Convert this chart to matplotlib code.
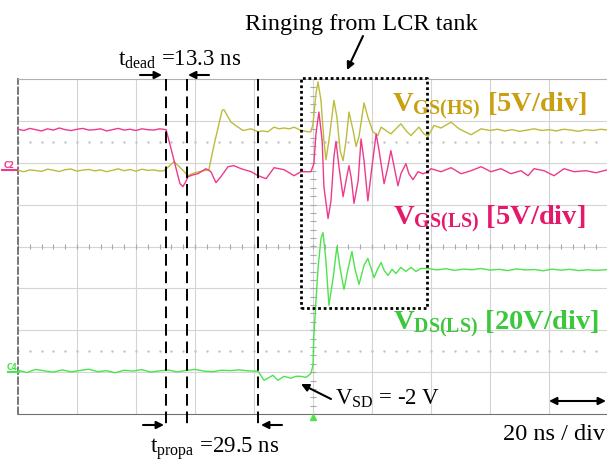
import numpy as np
import matplotlib
matplotlib.use("Agg")
from matplotlib import pyplot as plt

# scope capture, 20 ns/div, time in ns relative to trigger
# V_GS(HS) (yellow), V_GS(LS) (pink) at 5 V/div, V_DS(LS) (green) at 20 V/div

yel_t = [-100, -98, -96, -94, -92, -90, -88, -86, -84, -82,
         -80, -78, -76, -74, -72, -70, -68, -66, -64, -62,
         -60, -58, -56, -54, -52, -50.5, -47.1, -44.5, -42.4, -40.5,
         -39.0, -37.0, -35.3, -33.6, -30.8, -30.2, -27.8, -25.4, -23.7, -21.0,
         -18.6, -17.0, -15.3, -13.2, -11.5, -9.8, -8.0, -6.4, -4.1, -1.7,
         -0.7, 0.0, 1.0, 1.7, 2.7, 3.7, 4.4, 5.4, 7.1, 8.1,
         9.2, 10.2, 11.2, 12.2, 13.6, 14.6, 15.6, 17.3, 18.6, 20.3,
         22.0, 23.1, 24.7, 26.4, 28.1, 29.8, 31.5, 33.2, 35.9, 37.6,
         39.0, 41.0, 43.4, 46.8, 49.5, 53.6, 57.0, 60.0, 62.5, 65.0,
         67.5, 70.0, 72.5, 75.0, 77.5, 80.0, 82.5, 85.0, 87.5, 90.0,
         92.5, 95.0, 97.5, 100.0]
yel_v = [0.05, -0.12, 0.10, 0.02, -0.08, 0.18, 0.06, -0.10, 0.12, 0.20,
         -0.05, 0.08, 0.15, -0.02, 0.10, -0.12, 0.05, 0.22, 0.00, 0.14,
         -0.06, 0.18, 0.04, 0.10, -0.04, 0.0, 1.07, 0.2, -0.6, -0.3,
         -0.15, 0.0, 0.12, 3.0, 7.2, 7.3, 5.8, 5.2, 4.8, 5.0,
         4.65, 4.75, 4.65, 5.2, 5.0, 5.1, 5.0, 5.2, 4.8, 4.65,
         4.65, 5.6, 9.2, 10.6, 8.4, 3.6, 1.3, 3.6, 8.4, 6.4,
         2.4, 1.2, 3.6, 7.0, 4.8, 2.9, 4.1, 8.1, 6.4, 4.65,
         4.2, 5.2, 4.8, 4.4, 5.0, 5.6, 4.8, 4.2, 5.2, 4.4,
         4.1, 5.4, 5.1, 5.8, 5.0, 4.3, 5.0, 4.8, 4.95, 4.75,
         4.9, 4.7, 4.85, 5.0, 4.8, 4.9, 4.75, 4.95, 4.85, 4.7,
         4.9, 4.8, 4.95, 4.85]

pnk_t = [-100, -98, -96, -94, -92, -90, -88, -86, -84, -82,
         -80, -78, -76, -74, -72, -70, -68, -66, -64, -62,
         -60, -58, -56, -54, -52, -49.8, -48.1, -46.4, -45.1, -44.1,
         -43.1, -42.4, -40.7, -39.0, -36.3, -34.6, -32.9, -31.2, -28.8, -26.8,
         -24.4, -21.0, -18.6, -15.9, -13.2, -9.8, -6.4, -4.1, -0.7, 0.3,
         1.0, 2.0, 3.1, 3.7, 5.1, 6.1, 7.1, 7.8, 8.8, 10.2,
         11.2, 12.2, 13.0, 13.9, 15.3, 16.3, 17.3, 18.6, 19.7, 21.4,
         22.4, 24.1, 25.4, 26.4, 27.5, 28.8, 29.8, 31.5, 32.5, 33.9,
         35.6, 37.3, 39.0, 40.0, 43.4, 46.8, 50.2, 53.6, 57.0, 60.3,
         63.7, 67.1, 70.5, 72.9, 74.9, 78.3, 81.7, 85.1, 88.5, 92.5,
         95.9, 100.0]
pnk_v = [4.95, 4.8, 5.05, 4.9, 4.75, 5.0, 4.85, 5.1, 4.9, 4.8,
         4.95, 5.05, 4.85, 4.9, 5.0, 4.75, 4.9, 5.05, 4.85, 4.95,
         4.8, 5.0, 4.9, 4.85, 5.0, 4.9, 2.6, 0.24, -1.55, -1.9,
         -1.3, -0.72, -0.5, -0.36, 0.24, -0.12, -1.43, -0.7, 0.48, 0.6,
         0.24, -0.12, -0.6, -0.95, 0.36, 0.12, -0.6, -0.12, -0.12, 0.84,
         4.4, 7.0, 3.6, -1.9, -5.7, -3.6, 1.7, 3.5, 0.48, -3.1,
         -1.2, 0.6, -0.95, -3.9, -1.2, 3.8, 1.2, -3.6, -0.36, 4.4,
         2.4, -1.55, 0.48, 2.4, 0.48, -1.8, -0.36, 0.84, -0.36, -1.07,
         -0.12, -0.36, -0.12, 0.24, -0.12, 0.36, -0.36, 0.0, 0.48, -0.12,
         0.24, -0.36, 0.0, -0.6, 0.24, 0.0, -0.6, 0.24, -0.12, 0.0,
         -0.24, 0.12]

grn_t = [-100, -97, -94, -91, -88, -85, -82, -79, -76, -73,
         -70, -67, -64, -61, -58, -55, -52, -49, -46, -43,
         -40, -37, -34, -31, -28, -25, -22, -18.6, -16.6, -15.3,
         -13.6, -11.9, -9.8, -7.5, -5.8, -4.1, -2.4, -1.4, -0.7, 0.0,
         0.3, 1.0, 1.7, 2.7, 3.4, 4.4, 5.4, 6.8, 8.1, 9.2,
         10.5, 11.9, 13.2, 14.2, 15.6, 17.3, 18.6, 19.7, 20.7, 22.0,
         23.1, 24.1, 25.4, 26.8, 28.1, 29.8, 31.5, 33.2, 34.9, 36.6,
         39.0, 42, 45, 48, 51, 54, 57, 60, 63, 66,
         69, 72, 75, 78, 81, 84, 87, 90, 93, 96,
         100]
grn_v = [0.5, -0.6, 0.9, 0.2, -0.4, 0.7, -0.3, 0.4, 1.0, -0.2,
         0.3, -0.7, 0.5, 0.1, 0.8, -0.4, 0.2, 0.6, -0.3, 0.4,
         0.9, 0.1, -0.2, 0.5, 0.3, 0.7, 0.2, 0.0, -4.3, -3.3,
         -1.9, -4.3, -2.4, -3.3, -2.4, -2.4, -2.9, -1.9, -1.0, 2.9,
         17.2, 33.4, 49.1, 63.4, 66.3, 52.5, 31.5, 44.4, 59.6, 49.1,
         39.1, 49.1, 57.2, 49.1, 41.5, 50.6, 53.9, 49.1, 44.8, 49.1,
         52.0, 48.2, 45.8, 48.7, 46.7, 49.6, 47.7, 49.6, 47.7, 49.1,
         49.1, 48.4, 49.0, 48.2, 48.8, 48.5, 49.1, 48.3, 48.7, 48.1,
         48.9, 48.4, 48.6, 48.0, 48.8, 48.3, 48.7, 48.1, 48.5, 48.2,
         48.6]

# channel settings: volts per division and ground offset (in divisions from centre)
yel_scale, yel_offset = 5.0, 1.81
pnk_scale, pnk_offset = 5.0, 1.81
grn_scale, grn_offset = 20.0, -2.98

# timing cursors (ns) and ringing window
cursor_t = [-49.8, -42.7, -18.6]
ring_box = (-4.1, 38.6, -1.46, 4.03)

YEL = '#bcbc3c'
PNK = '#ee3a8a'
GRN = '#4ce44c'
YEL_TXT = '#c9a010'
PNK_TXT = '#e5186c'
GRN_TXT = '#3cc83c'

W, H = 607, 464

plt.rcParams['font.family'] = 'Liberation Serif'
plt.rcParams['mathtext.fontset'] = 'custom'
plt.rcParams['mathtext.rm'] = 'Liberation Serif'
plt.rcParams['mathtext.it'] = 'Liberation Serif:italic'
plt.rcParams['mathtext.bf'] = 'Liberation Serif:bold'


def fxy(x, y):
    # picture pixels (top-left origin) -> figure fraction
    return x / W, 1 - y / H


def to_div(v, scale, offset):
    return np.asarray(v) / scale + offset


fig = plt.figure(figsize=(W / 100, H / 100), dpi=100)
ax = fig.add_axes([18 / W, 49 / H, 590 / W, 335 / H])
ax.set_xlim(-100, 100)
ax.set_ylim(-4, 4)
ax.set_xticks([])
ax.set_yticks([])

# graticule
for t in range(-80, 100, 20):
    ax.axvline(t, color='#d4d4d4', lw=0.8, zorder=0)
for d in range(-3, 4):
    ax.axhline(d, color='#d4d4d4', lw=0.8, zorder=0)
ticks_t = np.arange(-100, 101, 4)
ax.vlines(ticks_t, -0.07, 0.07, color='#a8a8a8', lw=0.8, zorder=0)
ticks_d = np.arange(-4, 4.01, 0.2)
ax.hlines(ticks_d, -1.1, 1.1, color='#a8a8a8', lw=0.8, zorder=0)
for d in (2.5, -2.5):
    ax.plot(ticks_t, np.full(len(ticks_t), d), ls='none', marker='s',
            ms=0.7, color='#c4c4c4', zorder=0)

ax.spines['right'].set_visible(False)
ax.spines['top'].set_color('#b0b0b0')
ax.spines['bottom'].set_color('#707070')
ax.spines['left'].set_color('#606060')
ax.spines['left'].set_linestyle((0, (4, 2)))
ax.spines['left'].set_linewidth(1.2)

# traces
ax.plot(yel_t, to_div(yel_v, yel_scale, yel_offset), color=YEL, lw=1.0, zorder=3)
ax.plot(pnk_t, to_div(pnk_v, pnk_scale, pnk_offset), color=PNK, lw=1.0, zorder=4)
ax.plot(grn_t, to_div(grn_v, grn_scale, grn_offset), color=GRN, lw=1.0, zorder=3)

# cursors
for t in cursor_t:
    ax.plot([t, t], [4, -4.27], color='black', lw=1.4, ls=(0, (6, 3)),
            clip_on=False, zorder=5)

x0, x1, y0, y1 = ring_box
ax.plot([x0, x1, x1, x0, x0], [y0, y0, y1, y1, y0], color='black', lw=2.0,
        ls=(0, (1, 1)), clip_on=False, zorder=6)

# trigger marker and channel markers
ax.plot([0], [-4.06], marker='^', ms=4, color=GRN, clip_on=False, zorder=6)
fig.text(*fxy(4, 168), 'C2', color=PNK, fontsize=5.5, fontweight='bold',
         family='DejaVu Sans', va='baseline', ha='left', rotation=0)
fig.add_artist(plt.Line2D([2 / W, 17 / W], [1 - 171 / H] * 2, color=PNK, lw=1.5))
fig.text(*fxy(7, 370), 'C4', color=GRN, fontsize=5.5, fontweight='bold',
         family='DejaVu Sans', va='baseline', ha='left', rotation=0)
fig.add_artist(plt.Line2D([8 / W, 19 / W], [1 - 373 / H] * 2, color=GRN, lw=1.5))


# annotations
def arrow(x_from, y_from, x_to, y_to, style='-|>'):
    ax.annotate('', xy=fxy(x_to, y_to), xytext=fxy(x_from, y_from),
                xycoords='figure fraction', textcoords='figure fraction',
                arrowprops=dict(arrowstyle=style, color='black', lw=1.5,
                                mutation_scale=11, shrinkA=0, shrinkB=0))


fig.text(*fxy(245, 30), 'Ringing from LCR tank', fontsize=17.5, va='baseline')
arrow(363, 37, 347, 71)

fig.text(*fxy(118, 66), r'$\mathrm{t_{dead}}$ =13.3 ns', fontsize=16.5, va='baseline')
arrow(140, 76, 162, 76)
arrow(209, 76, 188, 76)

fig.text(*fxy(150, 453), r'$\mathrm{t_{propa}}$ =29.5 ns', fontsize=16.5, va='baseline')
arrow(143, 426, 164, 426)
arrow(282, 426, 261, 426)

fig.text(*fxy(392, 112), r'$\mathbf{V_{GS(HS)}}$ [5V/div]', fontsize=20.5,
         fontweight='bold', color=YEL_TXT, va='baseline')
fig.text(*fxy(393, 225), r'$\mathbf{V_{GS(LS)}}$ [5V/div]', fontsize=20.5,
         fontweight='bold', color=PNK_TXT, va='baseline')
fig.text(*fxy(393, 330), r'$\mathbf{V_{DS(LS)}}$ [20V/div]', fontsize=20.5,
         fontweight='bold', color=GRN_TXT, va='baseline')

fig.text(*fxy(335, 405), r'$\mathrm{V_{SD}}$ = -2 V', fontsize=16.5, va='baseline')
arrow(331, 400, 301, 385)

fig.text(*fxy(503, 440), '20 ns / div', fontsize=17.5, va='baseline')
arrow(549, 402, 606, 402, style='<|-|>')

fig.savefig('out.png', dpi=100)
